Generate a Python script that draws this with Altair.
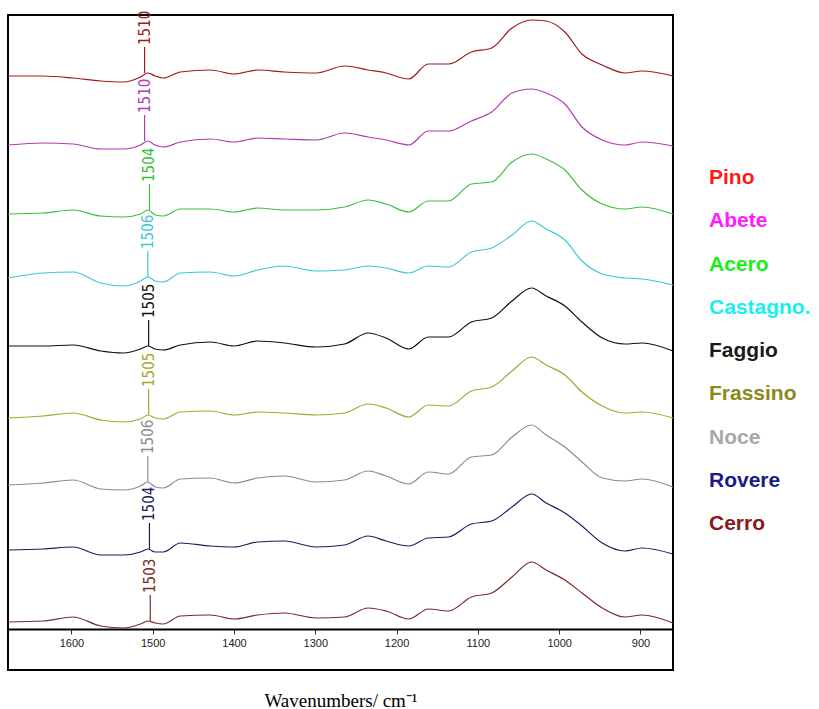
import altair as alt
import pandas as pd

# Wavenumber grid (cm-1) shared by all spectra
wavenumbers = [1678, 1635, 1598, 1564, 1536, 1515, 1506, 1497, 1487, 1466, 1429, 1400,
               1371, 1338, 1299, 1264, 1235, 1213, 1185, 1161, 1136, 1108, 1083, 1058,
               1034, 1016, 993, 972, 947, 919, 898, 860]

# Offset (stacked) relative absorbance, arbitrary units
pino = [553, 553, 551, 548, 547, 552, 556, 553, 551, 557, 559, 555, 559, 557, 556, 563,
        559, 556, 550, 565, 565, 577, 581, 601, 609, 608, 597, 575, 564, 556, 558, 553]
abete = [484, 486, 485, 480, 480, 484, 488, 484, 482, 487, 490, 487, 491, 490, 489, 496,
         492, 489, 484, 498, 498, 508, 517, 536, 540, 536, 525, 502, 489, 484, 487, 483]
acero = [415, 416, 419, 413, 412, 415, 419, 414, 413, 420, 420, 417, 421, 419, 419, 422,
         429, 425, 417, 428, 428, 445, 447, 467, 475, 470, 459, 439, 425, 420, 422, 415]
castagno = [351, 356, 357, 346, 343, 348, 352, 348, 347, 356, 357, 353, 359, 363, 358, 359,
            363, 361, 356, 363, 362, 377, 381, 394, 408, 400, 389, 368, 355, 351, 350, 344]
faggio = [283, 283, 284, 278, 276, 280, 283, 280, 279, 284, 287, 283, 288, 286, 282, 285,
          296, 291, 280, 292, 292, 307, 311, 328, 341, 333, 323, 307, 291, 285, 286, 278]
frassino = [211, 213, 216, 209, 207, 210, 214, 211, 210, 217, 218, 214, 217, 216, 214, 216,
            225, 221, 212, 224, 223, 238, 242, 258, 272, 264, 254, 237, 223, 216, 217, 211]
noce = [144, 146, 149, 140, 139, 143, 147, 142, 141, 150, 151, 146, 151, 153, 147, 149,
        158, 153, 145, 157, 155, 172, 174, 192, 204, 194, 182, 167, 151, 148, 150, 142]
rovere = [79, 80, 82, 74, 74, 77, 80, 77, 77, 86, 83, 82, 87, 88, 82, 84,
          93, 88, 83, 91, 92, 105, 108, 122, 135, 126, 116, 103, 86, 78, 81, 75]
cerro = [7, 8, 12, 3, 1, 5, 8, 6, 5, 13, 14, 10, 14, 16, 11, 12,
         21, 18, 10, 20, 18, 32, 36, 52, 67, 59, 49, 36, 21, 12, 14, 6]

names = ["Pino", "Abete", "Acero", "Castagno.", "Faggio", "Frassino", "Noce", "Rovere", "Cerro"]
series = [pino, abete, acero, castagno, faggio, frassino, noce, rovere, cerro]

# Lignin band markers
marker_wn = [1510, 1510, 1504, 1506, 1505, 1505, 1506, 1504, 1503]
marker_val = [556, 488, 419, 352, 283, 214, 147, 80, 8]

line_colors = ["#a01c1c", "#b03cb0", "#3cbf3c", "#3cc8d8", "#111111",
               "#a6a632", "#8c8c8c", "#1c1c5c", "#7a2a2a"]
legend_colors = ["#ff1a1a", "#ff1aff", "#1aee1a", "#1aeeee", "#1a1a1a",
                 "#8a8a1a", "#a8a8a8", "#1a1a8a", "#8a1a1a"]

rows = []
for n, vals in zip(names, series):
    for w, v in zip(wavenumbers, vals):
        rows.append({"name": n, "wn": w, "value": v})
df = pd.DataFrame(rows)
mk = pd.DataFrame({"name": names, "wn": marker_wn, "value": marker_val})
lg = pd.DataFrame({"name": names})

xscale = alt.Scale(domain=[860, 1678], reverse=True, nice=False, zero=False)
yscale = alt.Scale(domain=[-41, 614], nice=False, zero=False)
cscale = alt.Scale(domain=names, range=line_colors)

xaxis = alt.Axis(
    values=[900, 1000, 1100, 1200, 1300, 1400, 1500, 1600], format="d",
    offset=-41, grid=False,
    domainColor="black", domainWidth=2,
    tickColor="#333333", tickSize=5, tickWidth=1,
    labelFont="Liberation Sans", labelFontSize=11, labelColor="#222222", labelPadding=3,
    title="Wavenumbers/ cm⁻¹", titleFont="Liberation Serif", titleFontSize=19,
    titleFontWeight="normal", titleColor="black", titleBaseline="alphabetic", titleY=77,
)

lines = alt.Chart(df).mark_line(strokeWidth=1.2, interpolate="monotone").encode(
    x=alt.X("wn:Q", scale=xscale, axis=xaxis),
    y=alt.Y("value:Q", scale=yscale, axis=None),
    color=alt.Color("name:N", scale=cscale, legend=None),
    detail="name:N",
)

rules = alt.Chart(mk).transform_calculate(top="datum.value + 26").mark_rule(strokeWidth=1.2).encode(
    x=alt.X("wn:Q", scale=xscale),
    y=alt.Y("value:Q", scale=yscale),
    y2="top:Q",
    color=alt.Color("name:N", scale=cscale, legend=None),
)

labels = alt.Chart(mk).transform_calculate(ly="datum.value + 28").mark_text(
    angle=270, align="left", baseline="middle",
    font="Liberation Sans Narrow, DejaVu Sans Condensed, sans-serif", fontSize=15,
).encode(
    x=alt.X("wn:Q", scale=xscale),
    y=alt.Y("ly:Q", scale=yscale),
    text=alt.Text("wn:Q", format="d"),
    color=alt.Color("name:N", scale=cscale, legend=None),
)

plot = alt.layer(lines, rules, labels)

legend = alt.Chart(lg).mark_text(
    align="left", baseline="middle", font="Liberation Sans", fontSize=21, fontWeight="bold",
).encode(
    x=alt.value(701),
    y=alt.Y("name:N", sort=names, scale=alt.Scale(type="point", range=[163, 509], padding=0), axis=None),
    text="name:N",
    color=alt.Color("name:N", scale=alt.Scale(domain=names, range=legend_colors), legend=None),
)

chart = alt.layer(plot, legend).resolve_scale(y="independent", color="independent").properties(
    width=665, height=655,
    autosize=alt.AutoSizeParams(type="none"),
    padding={"left": 8, "top": 15, "right": 146, "bottom": 39},
    background="white",
).configure_view(stroke="black", strokeWidth=2)

chart.save("out.html", embed_options={"renderer": "svg", "actions": False})
